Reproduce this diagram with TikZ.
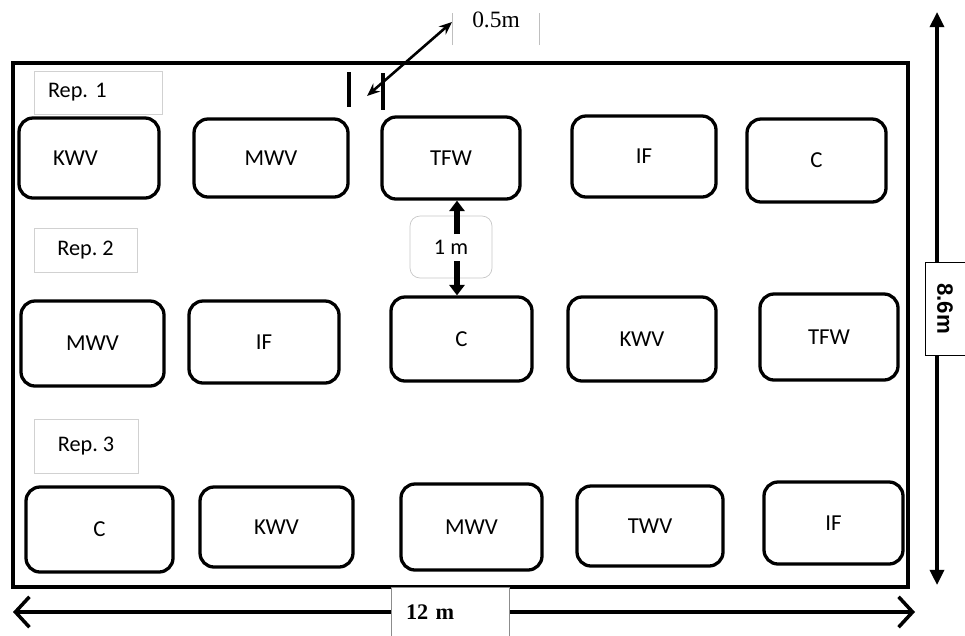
\documentclass[tikz,border=0pt]{standalone}
\usepackage{fontspec}
\setmainfont{Carlito}
\newfontfamily\tnr{Liberation Serif}
\newfontfamily\ars{Liberation Sans}
\usetikzlibrary{arrows.meta}
\begin{document}
\begin{tikzpicture}[x=0.03cm,y=-0.03cm,
  sz/.style 2 args={minimum width=#1*0.03cm, minimum height=#2*0.03cm},
  plotbox/.style={draw, line width=2.8pt, rounded corners=0.42cm, inner sep=0pt,
    font=\fontsize{19.5}{21}\selectfont},
  repbox/.style={draw=black!18, line width=0.6pt, inner sep=0pt,
    font=\fontsize{19}{21}\selectfont},
  dimline/.style={line width=2.8pt},
]
\useasboundingbox (0,0) rectangle (965,635);
% field
\node[draw, line width=2.6pt, sz={895}{524}, inner sep=0pt] (field) at (460.5,325) {};
% rep labels
\node[repbox, sz={128}{43}, text width=100*0.03cm, align=left] (rep1) at (98,92.5) {Rep.\ 1};
\node[repbox, sz={103}{44}] (rep2) at (85.5,250) {Rep.\ 2};
\node[repbox, sz={104}{54}] (rep3) at (86,446) {Rep.\ 3};
% row 1
\node[plotbox, sz={140}{80}, text width=72*0.03cm, align=left] (a1) at (89,158) {KWV};
\node[plotbox, sz={154}{78}] (a2) at (271,158) {MWV};
\node[plotbox, sz={138}{82}] (a3) at (451,158) {TFW};
\node[plotbox, sz={144}{81}] (a4) at (644,156.5) {IF};
\node[plotbox, sz={139}{83}] (a5) at (816.5,160.5) {C};
% row 2
\node[plotbox, sz={143}{85}] (b1) at (92.5,343.5) {MWV};
\node[plotbox, sz={150}{82}] (b2) at (264,342) {IF};
\node[plotbox, sz={141}{84}] (b3) at (461.5,339) {C};
\node[plotbox, sz={148}{84}] (b4) at (642,339) {KWV};
\node[plotbox, sz={138}{86}] (b5) at (829,337) {TFW};
% row 3
\node[plotbox, sz={147}{85}] (c1) at (99.5,529.5) {C};
\node[plotbox, sz={153}{80}] (c2) at (276.5,527) {KWV};
\node[plotbox, sz={141}{86}] (c3) at (471.5,527) {MWV};
\node[plotbox, sz={146}{80}] (c4) at (650,526) {TWV};
\node[plotbox, sz={139}{82}] (c5) at (833.5,523) {IF};
% 0.5 m spacing mark
\coordinate (bar1t) at (349,72); \coordinate (bar1b) at (349,107);
\coordinate (bar2t) at (383,73); \coordinate (bar2b) at (383,110);
\draw[line width=3.8pt] (bar1t) -- (bar1b);
\draw[line width=3.8pt] (bar2t) -- (bar2b);
\node[draw=none, sz={87}{50}, inner sep=0pt, font=\tnr\fontsize{20}{22}\selectfont] (l05) at (496,20) {0.5m};
\draw[black!25, line width=0.6pt] (l05.south west) -- ++(0,-32) (l05.south east) -- ++(0,-32);
\coordinate (p05) at (367,96);
\draw[line width=2.2pt, {Stealth[length=11pt,width=9pt]}-{Stealth[length=11pt,width=9pt]}] (p05) -- (452,22);
% 1 m spacing
\node[draw=black!22, line width=0.6pt, rounded corners=0.3cm, sz={82}{62}, inner sep=0pt,
  font=\fontsize{19}{21}\selectfont] (l1m) at (451,247) {1 m};
\coordinate (u1) at (457,234); \coordinate (d1) at (457,261);
\draw[line width=4.6pt, -{Triangle[length=9pt,width=13pt]}] (u1) -- (a3.south -| u1);
\draw[line width=4.6pt, -{Triangle[length=9pt,width=13pt]}] (d1) -- (b3.north -| d1);
% 8.6 m dimension
\coordinate (vt) at (937,12); \coordinate (vb) at (937,585);
\draw[dimline, {Triangle[length=13pt,width=12pt]}-{Triangle[length=13pt,width=12pt]}] (vt) -- (vb);
\node[draw, fill=white, line width=0.6pt, sz={40}{93}, inner sep=0pt] (l86) at (945,308.5)
  {\rotatebox{-90}{\ars\bfseries\fontsize{19}{20}\selectfont 8.6m}};
% 12 m dimension
\coordinate (hl) at (13,612); \coordinate (hr) at (915,612);
\draw[dimline, {Straight Barb[length=12pt,width=26pt,line width=3pt]}-{Straight Barb[length=12pt,width=26pt,line width=3pt]}] (hl) -- (hr);
\node[draw=black!45, fill=white, line width=0.6pt, sz={118}{50}, inner sep=0pt,
  text width=88*0.03cm, align=left, font=\tnr\bfseries\fontsize{19}{21}\selectfont] (l12) at (450,612) {12 m};
\end{tikzpicture}
\end{document}
